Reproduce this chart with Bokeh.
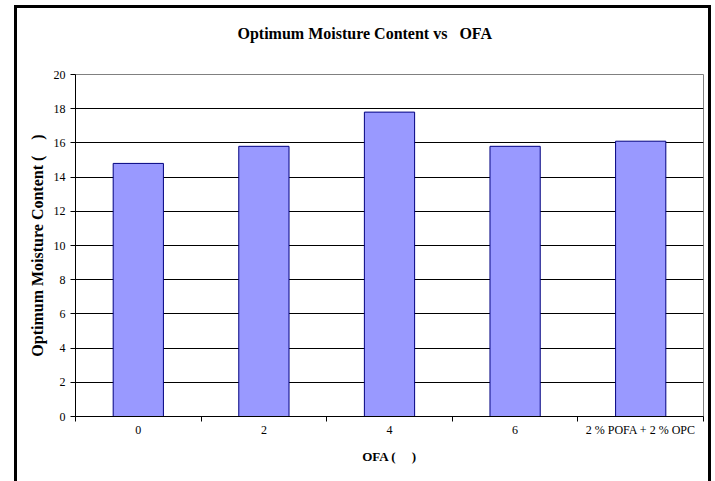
from bokeh.plotting import figure
from bokeh.models import FixedTicker, Range1d, ColumnDataSource, Title
from bokeh.embed import file_html
from bokeh.resources import INLINE

# ---- data ----
categories = ["0", "2", "4", "6", "2 % POFA + 2 % OPC"]
moisture = [14.8, 15.8, 17.8, 15.8, 16.1]
y_ticks = [0, 2, 4, 6, 8, 10, 12, 14, 16, 18, 20]

title_text = "Optimum Moisture Content vs \u00a0\u00a0OFA"
x_label = "OFA ( \u00a0\u00a0\u00a0\u00a0)"
y_label = "Optimum Moisture Content ( \u00a0\u00a0\u00a0)"

FONT = "Liberation Serif"

n = len(categories)
centers = [i + 0.5 for i in range(n)]
src = ColumnDataSource(dict(x=centers, top=moisture, cat=categories))

p = figure(width=691, height=473, title=None,
           x_range=Range1d(0, n), y_range=Range1d(y_ticks[0], y_ticks[-1]),
           output_backend="svg", toolbar_location=None,
           min_border_left=58, min_border_right=11,
           min_border_top=66, min_border_bottom=68)

# outer chart border (page-level frame around the chart)
p.styles = {"margin-left": "14px", "margin-top": "5px",
            "border-left": "3px solid black", "border-right": "3px solid black",
            "border-top": "3px solid black", "box-sizing": "content-box"}

p.background_fill_color = "white"
p.border_fill_color = "white"
p.outline_line_color = "#808080"
p.outline_line_width = 1

# spacer between title and plot area (closest to the frame), then the title
spacer = Title(text="\u00a0", text_font_size="10px", standoff=20)
p.add_layout(spacer, "above")
main_title = Title(text=title_text, text_font=FONT, text_font_size="16px",
                   text_font_style="bold", text_color="black",
                   align="left", offset=162, standoff=0)
p.add_layout(main_title, "above")

# bars
p.vbar(x="x", top="top", width=0.4, source=src,
       fill_color="#9999FF", line_color="#000080", line_width=1)

# y axis
yax = p.yaxis[0]
yax.ticker = FixedTicker(ticks=y_ticks)
yax.axis_label = y_label
yax.axis_label_text_font = FONT
yax.axis_label_text_font_size = "16px"
yax.axis_label_text_font_style = "bold"
yax.axis_label_text_color = "black"
yax.axis_label_standoff = 5
yax.major_label_text_font = FONT
yax.major_label_text_font_size = "12px"
yax.major_label_text_color = "black"
yax.major_label_standoff = 5
yax.major_tick_out = 5
yax.major_tick_in = 0
yax.minor_tick_out = 0
yax.minor_tick_in = 0
yax.axis_line_color = "black"
yax.major_tick_line_color = "black"

# x axis
xax = p.xaxis[0]
xax.ticker = FixedTicker(ticks=centers, minor_ticks=list(range(n + 1)))
xax.major_label_overrides = {c: lab for c, lab in zip(centers, categories)}
xax.axis_label = x_label
xax.axis_label_text_font = FONT
xax.axis_label_text_font_size = "13px"
xax.axis_label_text_font_style = "bold"
xax.axis_label_text_color = "black"
xax.axis_label_standoff = 9
xax.major_label_text_font = FONT
xax.major_label_text_font_size = "12px"
xax.major_label_text_color = "black"
xax.major_label_standoff = 1
xax.major_tick_out = 0
xax.major_tick_in = 0
xax.minor_tick_out = 5
xax.minor_tick_in = 0
xax.minor_tick_line_color = "black"
xax.axis_line_color = "black"

# grid
p.xgrid.visible = False
p.ygrid.ticker = FixedTicker(ticks=y_ticks)
p.ygrid.grid_line_color = "black"
p.ygrid.grid_line_width = 1

open("out.html", "w").write(file_html(p, INLINE))
